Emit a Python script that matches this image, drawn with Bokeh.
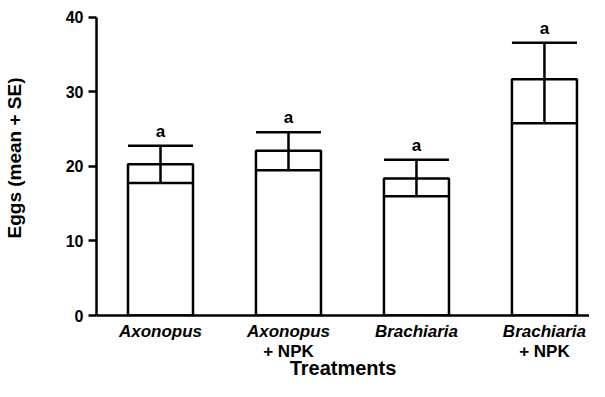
from bokeh.plotting import figure
from bokeh.models import Range1d, FixedTicker, LinearAxis, Whisker, ColumnDataSource, TeeHead
from bokeh.core.properties import value
from bokeh.embed import file_html
from bokeh.resources import INLINE

treatments = ["Axonopus", "Axonopus + NPK", "Brachiaria", "Brachiaria + NPK"]
genus_labels = ["Axonopus", "Axonopus", "Brachiaria", "Brachiaria"]
npk_labels = [" ", "+ NPK", " ", "+ NPK"]
means = [20.3, 22.1, 18.4, 31.7]
lower = [17.8, 19.5, 16.0, 25.8]
upper = [22.8, 24.6, 20.9, 36.6]
letters = ["a", "a", "a", "a"]
y_ticks = [0, 10, 20, 30, 40]

FONT = "Liberation Sans"
LW = 2.5

xpos = [i + 0.5 for i in range(len(treatments))]
src = ColumnDataSource(dict(x=xpos, mean=means, lower=lower, upper=upper, letter=letters))

p = figure(width=589, height=381, output_backend="svg", toolbar_location=None,
           x_range=Range1d(0, 3.852), y_range=Range1d(0, 42.28),
           min_border=0, x_axis_type=None)
p.outline_line_color = None
p.grid.visible = False
p.background_fill_color = "white"
p.border_fill_color = "white"

p.vbar(x="x", top="mean", width=0.508, bottom=0, source=src,
       fill_color="white", line_color="black", line_width=LW)

w = Whisker(base="x", upper="upper", lower="lower", source=src,
            line_color="black", line_width=LW, level="overlay",
            upper_head=TeeHead(size=65, line_width=LW, line_color="black"),
            lower_head=TeeHead(size=65, line_width=LW, line_color="black"))
p.add_layout(w)

p.text(x="x", y="upper", text="letter", source=src, y_offset=-5,
       text_align="center", text_baseline="bottom",
       text_font=value(FONT), text_font_style="bold", text_font_size="17px",
       text_color="black")

# x axis: genus names (italic)
ax1 = LinearAxis(ticker=FixedTicker(ticks=xpos),
                 major_label_overrides={x: g for x, g in zip(xpos, genus_labels)})
ax1.axis_line_width = LW
ax1.axis_line_color = "black"
ax1.major_tick_line_color = None
ax1.minor_tick_line_color = None
ax1.major_label_text_font = FONT
ax1.major_label_text_font_style = "bold italic"
ax1.major_label_text_font_size = "17px"
ax1.major_label_text_color = "black"
ax1.major_label_standoff = 0
p.add_layout(ax1, "below")

# second row: "+ NPK" and axis title
ax2 = LinearAxis(ticker=FixedTicker(ticks=xpos),
                 major_label_overrides={x: g for x, g in zip(xpos, npk_labels)},
                 axis_label="Treatments")
ax2.axis_line_color = None
ax2.major_tick_line_color = None
ax2.minor_tick_line_color = None
ax2.major_label_text_font = FONT
ax2.major_label_text_font_style = "bold"
ax2.major_label_text_font_size = "17px"
ax2.major_label_text_color = "black"
ax2.major_label_standoff = -8
ax2.axis_label_text_font = FONT
ax2.axis_label_text_font_style = "bold"
ax2.axis_label_text_font_size = "20px"
ax2.axis_label_text_color = "black"
ax2.axis_label_standoff = -7
p.add_layout(ax2, "below")

ya = p.yaxis[0]
ya.ticker = FixedTicker(ticks=y_ticks)
ya.bounds = (0, 40)
ya.axis_line_width = LW
ya.axis_line_color = "black"
ya.major_tick_line_width = LW
ya.major_tick_line_color = "black"
ya.major_tick_out = 8
ya.major_tick_in = 0
ya.minor_tick_line_color = None
ya.major_label_text_font = FONT
ya.major_label_text_font_style = "bold"
ya.major_label_text_font_size = "16px"
ya.major_label_text_color = "black"
ya.major_label_standoff = 5
ya.axis_label = "Eggs (mean + SE)"
ya.axis_label_text_font = FONT
ya.axis_label_text_font_style = "bold"
ya.axis_label_text_font_size = "19px"
ya.axis_label_text_color = "black"
ya.axis_label_standoff = 38

open("out.html", "w").write(file_html(p, INLINE))
